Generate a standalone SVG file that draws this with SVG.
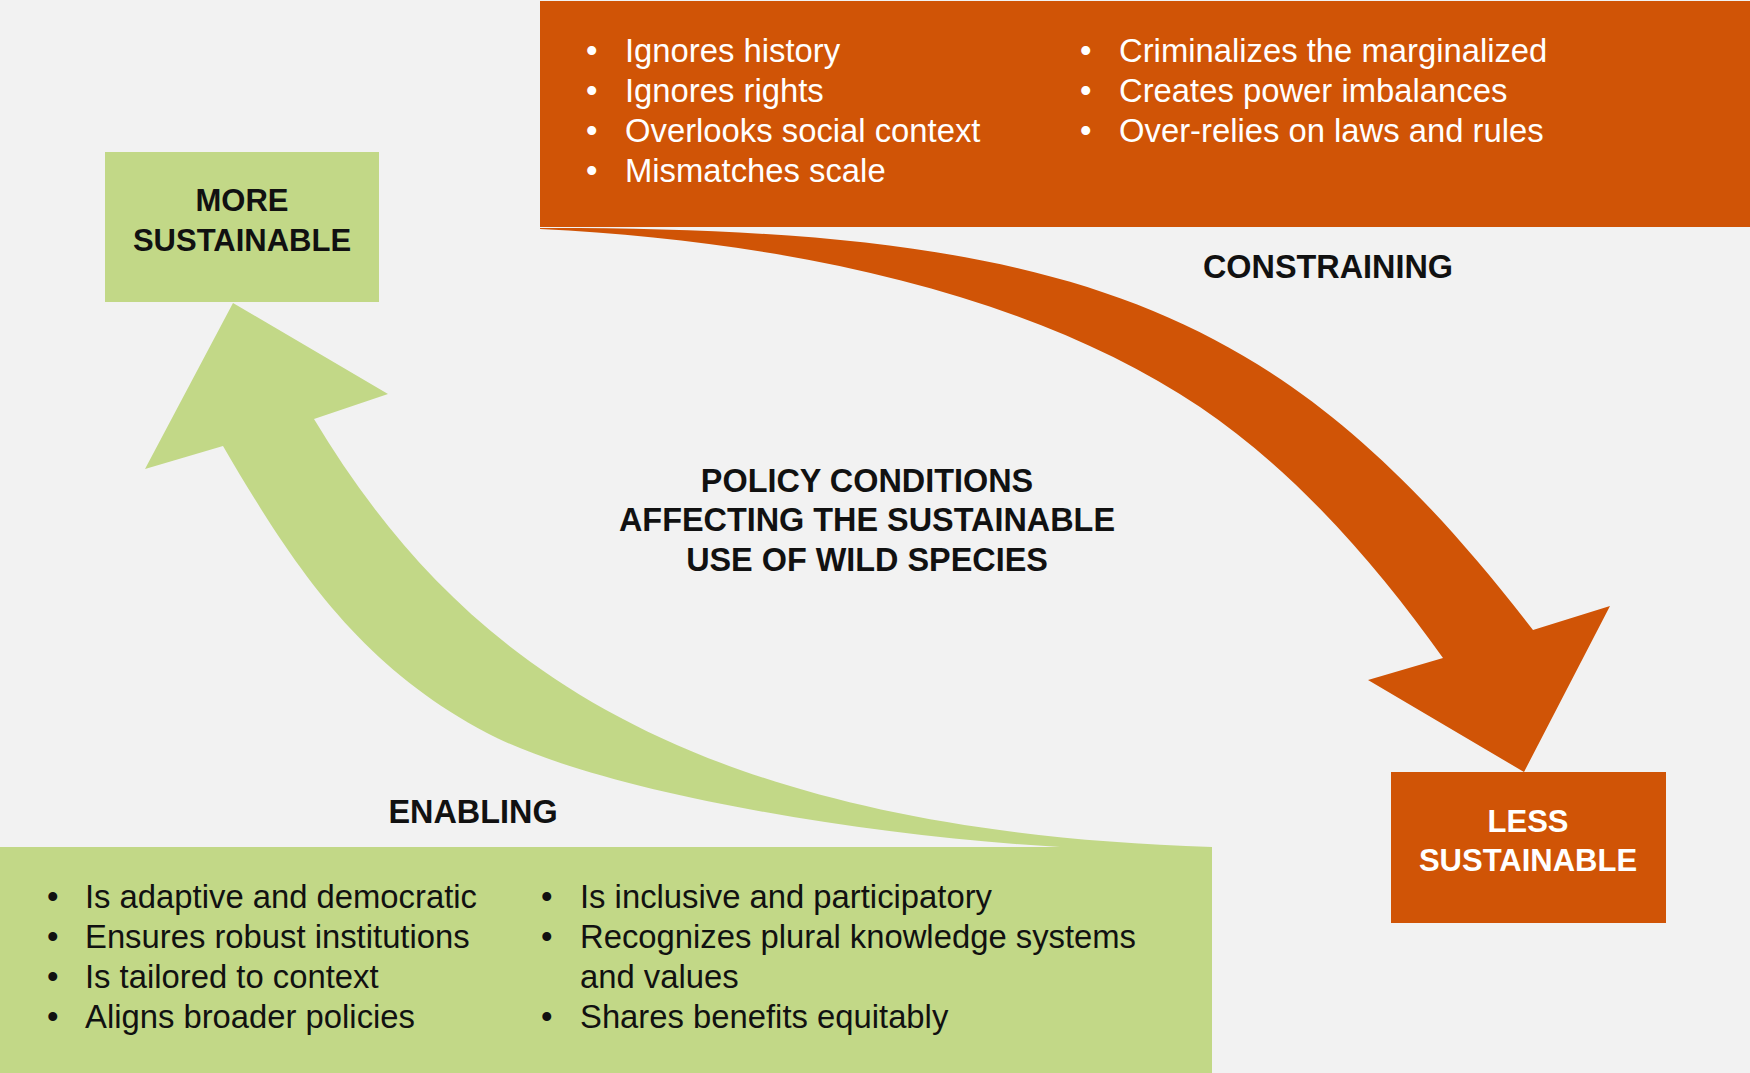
<svg xmlns="http://www.w3.org/2000/svg" width="1750" height="1073" viewBox="0 0 1750 1073">
  <style>
    .green { fill: #c2d887; }
    .orange { fill: #d05406; }
    text { font-family: "Liberation Sans", Arial, sans-serif; }
    .label { font-size: 32.4px; font-weight: bold; fill: #111; text-anchor: middle; }
    .box-label { font-size: 31px; font-weight: bold; text-anchor: middle; }
    .item { font-size: 32.8px; }
    .item-light { fill: #ffffff; }
    .item-dark { fill: #111111; }
  </style>

  <!-- background -->
  <rect x="0" y="0" width="1750" height="1073" fill="#f2f2f2"/>

  <!-- curved arrows -->
  <g id="connectors">
    <!-- constraining: from the top panel down to LESS SUSTAINABLE -->
    <path id="arrow-constraining" class="orange"
          d="M 540,228
             C 1090,227 1289,314 1533,630
             L 1610,606 L 1524,772 L 1368,680 L 1443,658
             C 1377,565 1295,471 1200,407
             C 1034,295 790,241 540,229 Z"/>
    <!-- enabling: from the bottom panel up to MORE SUSTAINABLE -->
    <path id="arrow-enabling" class="green"
          d="M 233,303 L 388,394 L 314,419
             C 449,643 662,830 1212,847
             L 1060,847
             C 850,835 593,789 487,733
             C 363,667 298,575 223,446
             L 145,469 Z"/>
  </g>

  <!-- constraining conditions panel -->
  <g id="panel-constraining">
    <rect class="orange" x="540" y="1" width="1210" height="226"/>
    <g class="item item-light">
      <text x="586" y="62">•</text><text x="625" y="62">Ignores history</text>
      <text x="586" y="102">•</text><text x="625" y="102">Ignores rights</text>
      <text x="586" y="142">•</text><text x="625" y="142">Overlooks social context</text>
      <text x="586" y="182">•</text><text x="625" y="182">Mismatches scale</text>
      <text x="1080" y="62">•</text><text x="1119" y="62">Criminalizes the marginalized</text>
      <text x="1080" y="102">•</text><text x="1119" y="102">Creates power imbalances</text>
      <text x="1080" y="142">•</text><text x="1119" y="142">Over-relies on laws and rules</text>
    </g>
  </g>

  <!-- enabling conditions panel -->
  <g id="panel-enabling">
    <rect class="green" x="0" y="847" width="1212" height="226"/>
    <g class="item item-dark">
      <text x="47" y="908">•</text><text x="85" y="908">Is adaptive and democratic</text>
      <text x="47" y="948">•</text><text x="85" y="948">Ensures robust institutions</text>
      <text x="47" y="988">•</text><text x="85" y="988">Is tailored to context</text>
      <text x="47" y="1028">•</text><text x="85" y="1028">Aligns broader policies</text>
      <text x="541" y="908">•</text><text x="580" y="908">Is inclusive and participatory</text>
      <text x="541" y="948">•</text><text x="580" y="948">Recognizes plural knowledge systems</text>
      <text x="580" y="988">and values</text>
      <text x="541" y="1028">•</text><text x="580" y="1028">Shares benefits equitably</text>
    </g>
  </g>

  <!-- outcome boxes -->
  <g id="node-more-sustainable">
    <rect class="green" x="105" y="152" width="274" height="150"/>
    <text class="box-label" x="242" y="211" fill="#111">MORE</text>
    <text class="box-label" x="242" y="251" fill="#111">SUSTAINABLE</text>
  </g>

  <g id="node-less-sustainable">
    <rect class="orange" x="1391" y="772" width="275" height="151"/>
    <text class="box-label" x="1528" y="832" fill="#ffffff">LESS</text>
    <text class="box-label" x="1528" y="871" fill="#ffffff">SUSTAINABLE</text>
  </g>

  <!-- headings -->
  <g id="label-constraining">
    <text class="label" x="1328" y="278">CONSTRAINING</text>
  </g>
  <g id="label-enabling">
    <text class="label" x="473" y="823">ENABLING</text>
  </g>
  <g id="title">
    <text class="label" x="867" y="492">POLICY CONDITIONS</text>
    <text class="label" x="867" y="531">AFFECTING THE SUSTAINABLE</text>
    <text class="label" x="867" y="571">USE OF WILD SPECIES</text>
  </g>
</svg>
